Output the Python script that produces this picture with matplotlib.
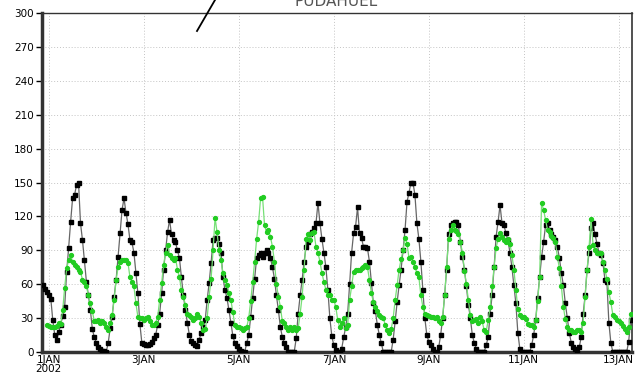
import numpy as np
import matplotlib
matplotlib.use("Agg")
import matplotlib.pyplot as plt

# hourly values, first point is 31DEC 21h
obs = [59, 56, 53, 50, 47, 28, 15, 11, 18, 24,
       32, 40, 71, 92, 115, 136, 139, 148, 150, 114,
       99, 81, 62, 50, 37, 20, 13, 8, 4, 3,
       1, 1, 0, 8, 21, 31, 49, 64, 84, 105,
       126, 136, 123, 113, 99, 97, 88, 70, 52, 25,
       8, 7, 6, 6, 7, 9, 12, 15, 24, 34,
       52, 73, 90, 106, 117, 104, 99, 97, 90, 83,
       66, 50, 37, 26, 15, 10, 8, 6, 5, 11,
       17, 22, 28, 46, 61, 79, 99, 101, 101, 96,
       88, 66, 55, 48, 37, 26, 14, 8, 5, 3,
       1, 0, 0, 8, 15, 31, 48, 65, 83, 86,
       88, 84, 88, 90, 88, 83, 75, 65, 50, 37,
       22, 13, 8, 4, 0, 0, 0, 0, 12, 34,
       50, 64, 80, 93, 97, 104, 106, 110, 114, 132,
       114, 100, 88, 75, 55, 30, 14, 6, 2, 0,
       0, 3, 13, 22, 34, 60, 88, 105, 111, 128,
       105, 101, 93, 93, 92, 80, 61, 43, 36, 24,
       15, 8, 0, 0, 0, 0, 0, 11, 27, 44,
       59, 73, 90, 108, 133, 141, 150, 150, 139, 114,
       100, 80, 55, 30, 15, 9, 6, 3, 0, 0,
       4, 15, 30, 50, 73, 104, 112, 114, 115, 115,
       112, 97, 84, 73, 58, 42, 30, 15, 8, 3,
       0, 0, 0, 0, 6, 13, 34, 50, 75, 102,
       115, 130, 114, 112, 105, 99, 88, 75, 59, 43,
       17, 3, 0, 0, 0, 0, 0, 6, 15, 28,
       48, 66, 84, 97, 112, 114, 108, 104, 102, 99,
       93, 83, 70, 59, 43, 30, 17, 8, 4, 3,
       0, 4, 13, 34, 50, 73, 88, 110, 114, 104,
       96, 88, 86, 79, 64, 62, 26, 8, 0, 0,
       0, 0, 0, 0, 0, 0, 9, 28]

fcst = [np.nan, np.nan, 24, 23, 22, 22, 22, 23, 26, 25,
        37, 57, 74, 81, 86, 80, 77, 75, 73, 71,
        64, 62, 58, 50, 43, 36, 27, 27, 28, 26,
        27, 26, 22, 19, 26, 33, 46, 64, 75, 80,
        81, 81, 81, 79, 66, 62, 58, 43, 31, 30,
        30, 28, 30, 31, 27, 24, 24, 26, 31, 46,
        61, 77, 88, 95, 86, 83, 81, 83, 73, 66,
        55, 49, 42, 34, 33, 31, 28, 30, 34, 31,
        26, 19, 20, 30, 49, 65, 90, 119, 106, 90,
        81, 70, 64, 59, 52, 46, 35, 24, 22, 22,
        21, 19, 21, 22, 30, 45, 62, 80, 100, 115,
        136, 137, 112, 106, 108, 102, 93, 80, 60, 49,
        40, 27, 26, 22, 19, 22, 19, 22, 19, 21,
        34, 49, 73, 100, 104, 99, 105, 106, 93, 88,
        80, 70, 62, 55, 50, 50, 46, 46, 40, 28,
        22, 26, 30, 21, 24, 46, 58, 71, 73, 73,
        73, 74, 75, 77, 75, 64, 52, 44, 40, 36,
        33, 31, 30, 24, 19, 17, 20, 30, 46, 59,
        73, 82, 90, 101, 96, 83, 84, 80, 75, 70,
        66, 50, 40, 34, 33, 32, 31, 31, 30, 31,
        27, 26, 31, 50, 75, 100, 108, 112, 108, 107,
        104, 97, 88, 72, 60, 46, 33, 27, 28, 29,
        26, 31, 27, 19, 18, 28, 40, 58, 75, 92,
        100, 105, 102, 99, 97, 100, 96, 86, 73, 55,
        38, 33, 31, 31, 29, 25, 24, 24, 22, 28,
        45, 66, 132, 126, 117, 108, 106, 103, 101, 97,
        84, 74, 58, 40, 29, 22, 19, 19, 18, 18,
        19, 19, 18, 26, 49, 73, 93, 118, 95, 90,
        88, 88, 88, 80, 73, 65, 53, 44, 33, 31,
        28, 27, 26, 23, 20, 18, 22, 34]

hours = np.arange(len(obs)) - 3  # hours since 1JAN 00
tick_hours = np.arange(0, 289, 48)
tick_labels = ['1JAN\n2002', '3JAN', '5JAN', '7JAN', '9JAN', '11JAN', '13JAN']
yticks = np.arange(0, 301, 30)

fig = plt.figure(figsize=(6.35, 3.76), dpi=100)
ax = fig.add_axes([0.066, 0.064, 0.929, 0.901])

ax.plot(hours, obs, '-', color='#666666', linewidth=0.9, marker='s',
        markersize=2.6, markerfacecolor='black', markeredgecolor='black', zorder=3)
ax.plot(hours, fcst, '-', color='#77e077', linewidth=0.9, marker='o',
        markersize=2.8, markerfacecolor='#22cc22', markeredgecolor='#22cc22', zorder=4)

ax.set_xlim(-3.5, 294.6)
ax.set_ylim(0, 300)
ax.set_xticks(tick_hours)
ax.set_xticklabels(tick_labels, fontsize=7.5, linespacing=0.9)
ax.set_yticks(yticks)
ax.set_yticklabels([str(v) for v in yticks], fontsize=7.5)
ax.tick_params(axis='x', length=0, pad=2)
ax.tick_params(axis='y', length=4, width=1, pad=2, direction='out')
ax.grid(True, color='#c4c4c4', linestyle=(0, (1, 2)), linewidth=0.7)

ax.spines['left'].set_linewidth(2.5)
ax.spines['bottom'].set_linewidth(2.5)
ax.spines['top'].set_linewidth(1.0)
ax.spines['right'].set_linewidth(1.2)
for s in ax.spines.values():
    s.set_color('#333333')

# title sits mostly above the top edge, as in the original
fig.text(0.53, 0.984, 'PUDAHUEL', ha='center', va='baseline', fontsize=11, color='#555555')
fig.add_artist(plt.Line2D([215 / 635, 197 / 635], [1.0, 1 - 31 / 376],
                          color='black', linewidth=1.3))

fig.savefig('out.png', dpi=100)
